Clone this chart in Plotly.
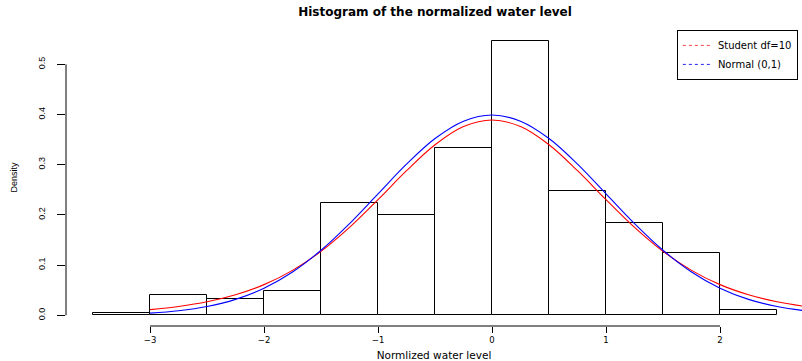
import plotly.graph_objects as go

# Histogram bins (left edges) and densities
bin_left = [-3.5, -3.0, -2.5, -2.0, -1.5, -1.0, -0.5, 0.0, 0.5, 1.0, 1.5, 2.0]
density = [0.005, 0.041, 0.033, 0.049, 0.224, 0.200, 0.333, 0.546, 0.248, 0.183, 0.1235, 0.011]
bin_width = 0.5

# Curves
curve_x = [-3.0, -2.75, -2.5, -2.25, -2.0, -1.75, -1.5, -1.25, -1.0, -0.75, -0.5, -0.25,
           0.0, 0.25, 0.5, 0.75, 1.0, 1.25, 1.5, 1.75, 2.0, 2.25, 2.5, 2.75, 3.0]
student_y = [0.0114, 0.0176, 0.0269, 0.0409, 0.0611, 0.0895, 0.1274, 0.1751, 0.2304, 0.2880,
             0.3397, 0.3760, 0.3891, 0.3760, 0.3397, 0.2880, 0.2304, 0.1751, 0.1274, 0.0895,
             0.0611, 0.0409, 0.0269, 0.0176, 0.0114]
normal_y = [0.0044, 0.0091, 0.0175, 0.0317, 0.0540, 0.0863, 0.1295, 0.1827, 0.2420, 0.3011,
            0.3521, 0.3867, 0.3989, 0.3867, 0.3521, 0.3011, 0.2420, 0.1827, 0.1295, 0.0863,
            0.0540, 0.0317, 0.0175, 0.0091, 0.0044]

x_ticks = [-3, -2, -1, 0, 1, 2]
y_ticks = [0.0, 0.1, 0.2, 0.3, 0.4, 0.5]

FONT = "Liberation Sans, Arial, Helvetica, sans-serif"
WIDE = "DejaVu Sans, Verdana, sans-serif"

fig = go.Figure()
fig.add_trace(go.Bar(
    x=[b + bin_width / 2 for b in bin_left], y=density, width=bin_width,
    marker=dict(color="white", line=dict(color="black", width=1)),
    showlegend=False, hoverinfo="skip"))
fig.add_trace(go.Scatter(x=curve_x, y=student_y, mode="lines", line=dict(color="red", width=1.1, shape="spline"),
                         showlegend=False))
fig.add_trace(go.Scatter(x=curve_x, y=normal_y, mode="lines", line=dict(color="blue", width=1.1, shape="spline"),
                         showlegend=False))
# legend entries (dashed keys)
fig.add_trace(go.Scatter(x=[None], y=[None], mode="lines", name="Student df=10",
                         line=dict(color="#ff4444", width=1, dash="3px,3px")))
fig.add_trace(go.Scatter(x=[None], y=[None], mode="lines", name="Normal (0,1)",
                         line=dict(color="#2222ff", width=1, dash="3px,3px")))

# R-style axis lines that only span the tick range
fig.add_shape(type="line", xref="x", yref="paper", x0=x_ticks[0], x1=x_ticks[-1], y0=0, y1=0,
              line=dict(color="black", width=1))
fig.add_shape(type="line", xref="paper", yref="y", x0=0, x1=0, y0=y_ticks[0], y1=y_ticks[-1],
              line=dict(color="black", width=1))

fig.update_layout(
    width=802, height=361,
    margin=dict(l=66, r=0, t=29, b=35),
    plot_bgcolor="white", paper_bgcolor="white",
    font=dict(family=FONT, color="black", size=9),
    bargap=0,
    title=dict(text="<b>Histogram of the normalized water level</b>", x=435 / 802, xanchor="center",
               y=1 - 12 / 361, yanchor="middle", yref="container",
               font=dict(family=WIDE, size=12)),
    legend=dict(x=0.830, y=0.997, xanchor="left", yanchor="top", bordercolor="black", borderwidth=1,
                bgcolor="white", font=dict(family=WIDE, size=10), tracegroupgap=0, itemwidth=30),
    xaxis=dict(range=[-3.737, 2.719], showgrid=False, zeroline=False, showline=False,
               tickmode="array", tickvals=x_ticks, ticktext=["\u22123", "\u22122", "\u22121", "0", "1", "2"],
               ticks="outside", ticklen=6, tickcolor="black",
               tickfont=dict(family=WIDE, size=8.5),
               title=dict(text="Normlized water level", standoff=7, font=dict(family=WIDE, size=10.5))),
    yaxis=dict(range=[-0.0213, 0.5703], showgrid=False, zeroline=False, showline=False,
               tickmode="array", tickvals=y_ticks, ticktext=["0.0", "0.1", "0.2", "0.3", "0.4", "0.5"],
               ticks="outside", ticklen=8, tickcolor="black", tickangle=-90, ticklabelstandoff=8,
               tickfont=dict(family=FONT, size=9),
               title=dict(text="Density", standoff=18, font=dict(family=FONT, size=9))),
)

fig.write_html("out.html")
